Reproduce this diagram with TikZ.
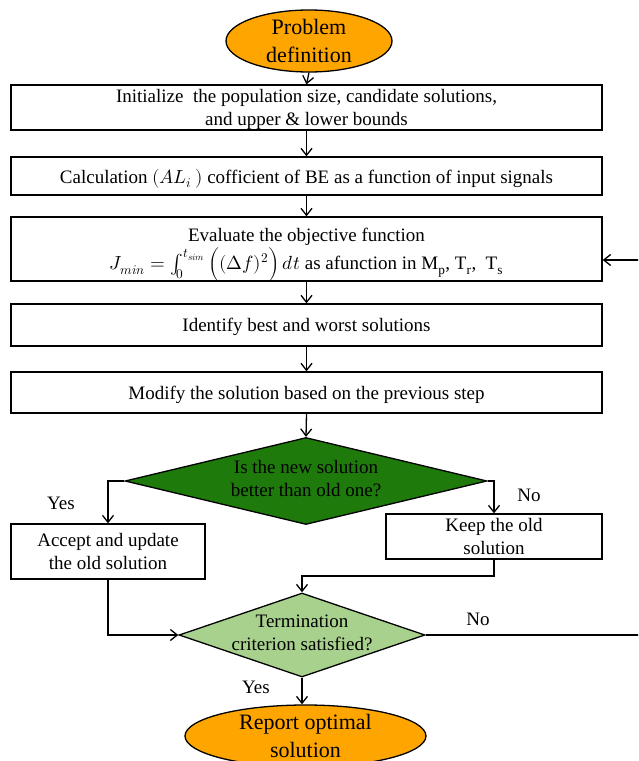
\documentclass[tikz,border=0pt]{standalone}
\usepackage{fontspec}
\usepackage{unicode-math}
\setmainfont{Liberation Serif}
\setmathfont{Latin Modern Math}
\usetikzlibrary{shapes.geometric,arrows.meta}
\definecolor{orng}{RGB}{255,165,0}
\definecolor{dgreen}{RGB}{31,122,12}
\definecolor{lgreen}{RGB}{169,209,142}
\begin{document}
\begin{tikzpicture}[x=1pt,y=-1pt,
  every node/.style={font=\fontsize{19}{23}\selectfont},
  box/.style={draw=black,line width=1.3pt,fill=white,rectangle,inner sep=0pt,align=center,text depth=0pt},
  term/.style={draw=black,line width=1.3pt,fill=orng,ellipse,inner sep=0pt,align=center,font=\fontsize{22}{28}\selectfont},
  dec/.style={draw=black,line width=1.3pt,diamond,inner sep=0pt},
  dectext/.style={inner sep=0pt,align=center},
  conn/.style={line width=1.3pt,-{Straight Barb[length=7pt,width=11pt,line width=1.3pt]}},
  lbl/.style={inner sep=0pt}]
\useasboundingbox (0,0) rectangle (638,761);
\clip (0,0) rectangle (638,761);
\node[term,minimum width=166pt,minimum height=62pt] (e1) at (309,41) {Problem\\definition};
\node[box,minimum width=591pt,minimum height=45pt] (b1) at (306.5,107.5) {Initialize\ \ the population size, candidate solutions,\\and upper \& lower bounds};
\node[box,minimum width=591pt,minimum height=38pt] (b2) at (306.5,176) {Calculation $(AL_i\,)$ cofficient of BE as a function of input signals};
\node[box,minimum width=591pt,minimum height=64pt] (b3) at (306.5,249) {Evaluate\ the objective function\\[1pt]$J_{min}=\int_0^{t_{sim}}\,\Bigl((\Delta f)^2\Bigr)\,dt$ as afunction in M\textsubscript{p}, T\textsubscript{r},\ \ T\textsubscript{s}};
\node[box,minimum width=591pt,minimum height=42pt] (b4) at (306.5,325) {Identify best and worst solutions};
\node[box,minimum width=591pt,minimum height=41pt] (b5) at (306.5,392.5) {Modify the solution based on the previous step};
\node[dec,fill=dgreen,minimum width=362pt,minimum height=87pt] (d1) at (306,481) {};
\node[dectext] (d1t) at (306,479) {Is the new solution\\better than old one?};
\node[box,minimum width=194pt,minimum height=55pt] (b6) at (108,551.5) {Accept and update\\the old solution};
\node[box,minimum width=216pt,minimum height=45pt] (b7) at (494,536.5) {Keep the old\\solution};
\node[dec,fill=lgreen,minimum width=246pt,minimum height=84pt] (d2) at (302,635) {};
\node[dectext] (d2t) at (302,633) {Termination\\criterion satisfied?};
\node[term,minimum width=241pt,minimum height=62pt] (e2) at (305.5,736) {Report optimal\\solution};
\node[lbl] (yes1) at (61,503) {Yes};
\node[lbl] (no1) at (529,495) {No};
\node[lbl] (no2) at (478,619) {No};
\node[lbl] (yes2) at (256,687) {Yes};
\coordinate (m) at (494,576);
\coordinate (r1) at (641,635);
\coordinate (r2) at (641,260);
\draw[conn] (e1.south) -- (b1.north);
\draw[conn] (b1.south) -- (b2.north);
\draw[conn] (b2.south) -- (b3.north);
\draw[conn] (b3.south) -- (b4.north);
\draw[conn] (b4.south) -- (b5.north);
\draw[conn] (b5.south) -- (d1.north);
\draw[conn] (d1.west) -| (b6.north);
\draw[conn] (d1.east) -| (b7.north);
\draw[conn] (b7.south) -- (m) -| (d2.north);
\draw[conn] (b6.south) |- (d2.west);
\draw[conn] (d2.east) -- (r1) -- (r2) -- (b3.east |- r2);
\draw[conn] (d2.south) -- (d2.south |- e2.north);
\end{tikzpicture}
\end{document}
